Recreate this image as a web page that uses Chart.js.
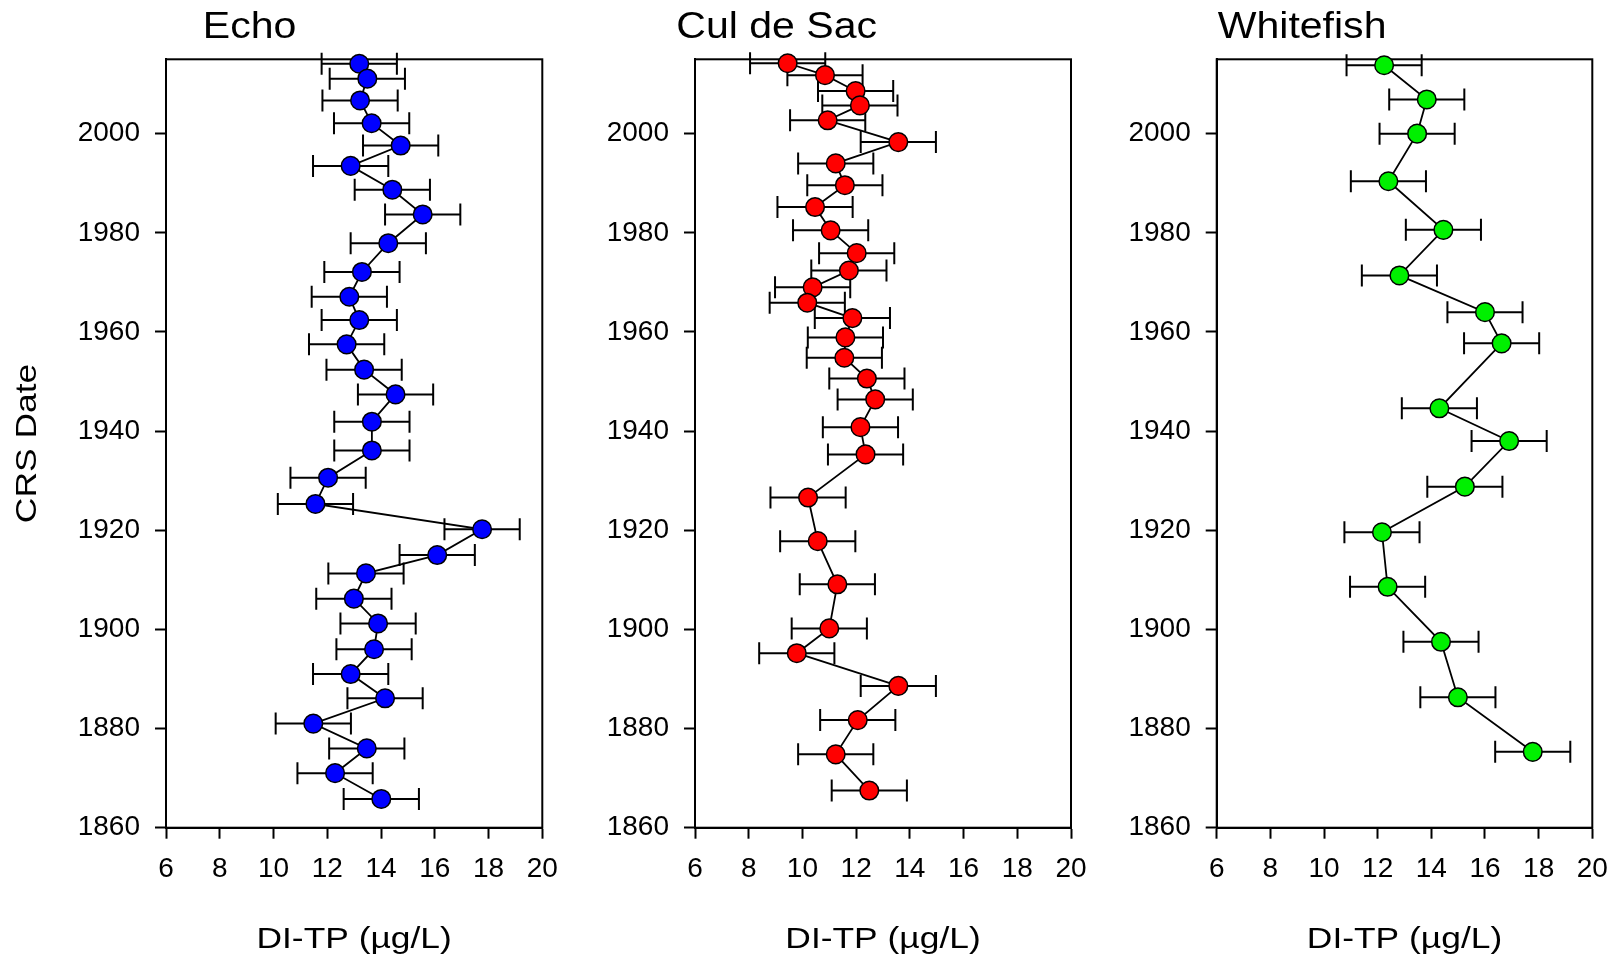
<!DOCTYPE html>
<html><head><meta charset="utf-8">
<script src="https://cdn.jsdelivr.net/npm/chart.js@4.4.1/dist/chart.umd.min.js"></script>
<style>
html,body{margin:0;padding:0;background:#fff;width:1620px;height:955px;overflow:hidden;position:relative}
canvas{position:absolute;top:0}
</style></head><body>
<canvas id="c1" width="575" height="955" style="left:0px"></canvas>
<canvas id="c2" width="523" height="955" style="left:580px"></canvas>
<canvas id="c3" width="525" height="955" style="left:1100px"></canvas>
<script>
// ---- Data ----
const xTickValues = [6, 8, 10, 12, 14, 16, 18, 20];
const yTickValues = [1860, 1880, 1900, 1920, 1940, 1960, 1980, 2000];
const panelTitles = ["Echo", "Cul de Sac", "Whitefish"];
const xAxisTitle = "DI-TP (µg/L)";
const yAxisTitle = "CRS Date";

const echoYears = [2014.1, 2011.1, 2006.7, 2002.1, 1997.6, 1993.5, 1988.7, 1983.7, 1977.9, 1972.1, 1967.1, 1962.4, 1957.5, 1952.4, 1947.4, 1941.9, 1936.1, 1930.6, 1925.3, 1920.2, 1915.0, 1911.3, 1906.2, 1901.2, 1896.0, 1891.0, 1886.1, 1881.0, 1876.0, 1871.0, 1865.8];
const echoTP = [13.19, 13.49, 13.22, 13.65, 14.73, 12.87, 14.42, 15.55, 14.27, 13.29, 12.82, 13.19, 12.72, 13.37, 14.54, 13.66, 13.66, 12.03, 11.56, 17.76, 16.09, 13.44, 12.99, 13.89, 13.74, 12.87, 14.15, 11.48, 13.47, 12.29, 14.01];
const echoErr = [1.4, 1.4, 1.4, 1.4, 1.4, 1.4, 1.4, 1.4, 1.4, 1.4, 1.4, 1.4, 1.4, 1.4, 1.4, 1.4, 1.4, 1.4, 1.4, 1.4, 1.4, 1.4, 1.4, 1.4, 1.4, 1.4, 1.4, 1.4, 1.4, 1.4, 1.4];

const cdsYears = [2014.2, 2011.8, 2008.6, 2005.7, 2002.7, 1998.3, 1994.0, 1989.6, 1985.2, 1980.5, 1975.9, 1972.4, 1969.0, 1965.9, 1962.8, 1958.9, 1954.8, 1950.6, 1946.4, 1940.8, 1935.3, 1926.6, 1917.8, 1909.1, 1900.2, 1895.2, 1888.6, 1881.7, 1874.8, 1867.5];
const cdsTP = [9.45, 10.84, 11.98, 12.14, 10.94, 13.57, 11.24, 11.58, 10.47, 11.05, 12.02, 11.73, 10.38, 10.18, 11.86, 11.60, 11.56, 12.40, 12.71, 12.16, 12.35, 10.21, 10.57, 11.30, 11.00, 9.79, 13.57, 12.06, 11.24, 12.49];
const cdsErr = [1.4, 1.4, 1.4, 1.4, 1.4, 1.4, 1.4, 1.4, 1.4, 1.4, 1.4, 1.4, 1.4, 1.4, 1.4, 1.4, 1.4, 1.4, 1.4, 1.4, 1.4, 1.4, 1.4, 1.4, 1.4, 1.4, 1.4, 1.4, 1.4, 1.4];

const wfYears = [2013.8, 2006.9, 2000.0, 1990.4, 1980.6, 1971.4, 1964.0, 1957.7, 1944.6, 1938.0, 1928.8, 1919.6, 1908.6, 1897.5, 1886.3, 1875.3];
const wfTP = [12.24, 13.83, 13.47, 12.40, 14.45, 12.81, 16.00, 16.62, 14.30, 16.90, 15.25, 12.16, 12.37, 14.36, 14.99, 17.78];
const wfErr = [1.4, 1.4, 1.4, 1.4, 1.4, 1.4, 1.4, 1.4, 1.4, 1.4, 1.4, 1.4, 1.4, 1.4, 1.4, 1.4];

// ---- Drawing ----
const FONT = '"Liberation Sans", Arial, Helvetica, sans-serif';

const panelPlugin = {
  id: 'panelPlugin',
  beforeDatasetsDraw(chart) {
    const {ctx, chartArea: a} = chart;
    ctx.save();
    ctx.strokeStyle = '#000';
    ctx.lineWidth = 2;
    ctx.strokeRect(a.left, a.top, a.right - a.left, a.bottom - a.top);
    const xs = chart.scales.x, ys = chart.scales.y;
    chart.data.datasets.forEach(ds => {
      ds.data.forEach((p, i) => {
        const e = ds.errors[i];
        const x1 = xs.getPixelForValue(p.x - e);
        const x2 = xs.getPixelForValue(p.x + e);
        const y = ys.getPixelForValue(p.y);
        ctx.beginPath();
        ctx.moveTo(x1, y); ctx.lineTo(x2, y);
        ctx.moveTo(x1, y - 11); ctx.lineTo(x1, y + 11);
        ctx.moveTo(x2, y - 11); ctx.lineTo(x2, y + 11);
        ctx.stroke();
      });
    });
    ctx.restore();
  },
  afterDraw(chart, args, opts) {
    const {ctx, chartArea: a} = chart;
    ctx.save();
    ctx.fillStyle = '#000';
    ctx.textBaseline = 'alphabetic';
    // panel title
    ctx.save();
    ctx.font = '36px ' + FONT;
    ctx.textAlign = 'left';
    ctx.translate(a.left + opts.titleDx, 38.3);
    ctx.scale(1.14, 1);
    ctx.fillText(opts.title, 0, 0);
    ctx.restore();
    // x axis title
    ctx.save();
    ctx.font = '29px ' + FONT;
    ctx.textAlign = 'center';
    ctx.translate((a.left + a.right) / 2, 948);
    ctx.scale(1.22, 1);
    ctx.fillText(xAxisTitle, 0, 0);
    ctx.restore();
    // y axis title
    if (opts.yTitle) {
      ctx.save();
      ctx.font = '30px ' + FONT;
      ctx.textAlign = 'center';
      ctx.translate(36, (a.top + a.bottom) / 2);
      ctx.rotate(-Math.PI / 2);
      ctx.scale(1.18, 1);
      ctx.fillText(opts.yTitle, 0, 0);
      ctx.restore();
    }
    ctx.restore();
  }
};

function makePanel(id, title, titleDx, years, tp, err, color, axisW, rightPad, showYTitle) {
  const data = years.map((y, i) => ({x: tp[i], y: y}));
  new Chart(document.getElementById(id), {
    type: 'scatter',
    data: {
      datasets: [{
        data: data,
        errors: err,
        showLine: true,
        tension: 0,
        borderColor: '#000',
        borderWidth: 1.8,
        pointRadius: 9.3,
        pointHoverRadius: 9.3,
        pointBackgroundColor: color,
        pointBorderColor: '#000',
        pointBorderWidth: 1.5,
        clip: false
      }]
    },
    options: {
      responsive: false,
      animation: false,
      events: [],
      layout: {padding: {top: 59.3, left: 0, right: rightPad, bottom: 0}},
      plugins: {
        legend: {display: false},
        tooltip: {enabled: false},
        panelPlugin: {title: title, titleDx: titleDx, yTitle: showYTitle ? yAxisTitle : null}
      },
      scales: {
        x: {
          type: 'linear',
          min: 6, max: 20,
          afterBuildTicks: s => { s.ticks = xTickValues.map(v => ({value: v})); },
          afterFit: s => { s.height = 127.3; },
          ticks: {color: '#000', font: {family: FONT, size: 28}, padding: 14, maxRotation: 0, autoSkip: false,
                  callback: v => String(v)},
          grid: {drawOnChartArea: false, drawTicks: true, tickLength: 11, tickWidth: 2, tickColor: '#000'},
          border: {display: true, color: '#000', width: 2}
        },
        y: {
          type: 'linear',
          min: 1860, max: 2015,
          afterBuildTicks: s => { s.ticks = yTickValues.map(v => ({value: v})); },
          afterFit: s => { s.width = axisW; },
          ticks: {color: '#000', font: {family: FONT, size: 28}, padding: 15, autoSkip: false,
                  callback: v => String(v)},
          grid: {drawOnChartArea: false, drawTicks: true, tickLength: 11, tickWidth: 2, tickColor: '#000'},
          border: {display: true, color: '#000', width: 2}
        }
      }
    },
    plugins: [panelPlugin]
  });
}

makePanel('c1', panelTitles[0], 36.8, echoYears, echoTP, echoErr, '#0000ff', 166, 32.7, true);
makePanel('c2', panelTitles[1], -18.7, cdsYears, cdsTP, cdsErr, '#ff0000', 115, 32, false);
makePanel('c3', panelTitles[2], 1.0, wfYears, wfTP, wfErr, '#00f000', 116.7, 32.7, false);
</script>
</body></html>
